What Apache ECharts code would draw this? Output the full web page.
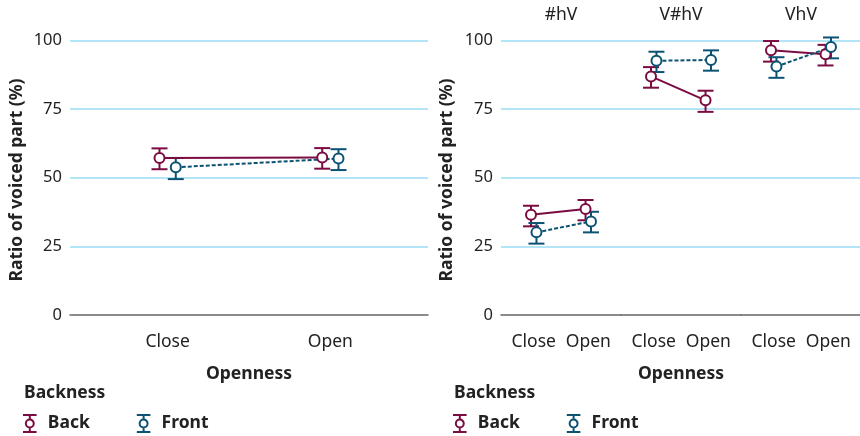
<!DOCTYPE html>
<html>
<head>
<meta charset="utf-8">
<script src="https://cdn.jsdelivr.net/npm/echarts@6/dist/echarts.min.js"></script>
<style>
  html, body { margin: 0; padding: 0; background: #fff; }
  #chart { width: 860px; height: 436px; }
</style>
</head>
<body>
<div id="chart"></div>
<script>
// categories
const openness = ["Close", "Open"]
const contexts = ["#hV", "V#hV", "VhV"]
const yTicks = [0, 25, 50, 75, 100]

// left panel: all contexts pooled
const backMean = [57.2, 57.4]
const backLo = [53.1, 53.3]
const backHi = [60.7, 60.8]
const frontMean = [53.8, 57.0]
const frontLo = [49.5, 52.8]
const frontHi = [57.2, 60.4]

// right panel: one row per context (#hV, V#hV, VhV)
const backMeanByCtx = [[36.5, 38.6], [86.9, 78.2], [96.4, 95.0]]
const backLoByCtx = [[32.3, 34.5], [82.8, 74.0], [92.3, 90.9]]
const backHiByCtx = [[39.8, 41.9], [90.3, 81.7], [99.8, 98.4]]
const frontMeanByCtx = [[30.1, 34.1], [92.6, 92.9], [90.5, 97.6]]
const frontLoByCtx = [[26.0, 30.1], [88.5, 89.0], [86.4, 93.5]]
const frontHiByCtx = [[33.5, 37.6], [95.9, 96.4], [93.9, 101.1]]

const BACK = "#7b0c41"
const FRONT = "#0b5273"
const GRIDLINE = "#9adcf3"
const TEXT = "#222"
const FONT = "Noto Sans"
const DODGE = 0.05

const chart = echarts.init(document.getElementById("chart"))

// grids: left panel + three facets
const grids = [{ left: 70, width: 358 }]
const facetW = 120
contexts.forEach((c, i) => grids.push({ left: 501 + i * facetW, width: facetW }))
grids.forEach(g => {
	g.top = 29.5
	g.bottom = 121
	g.outerBoundsMode = "none"
})

const xAxes = grids.map((g, i) => ({
	type: "value",
	gridIndex: i,
	min: 0.4,
	max: 2.6,
	axisLine: { show: true, lineStyle: { color: "#666", width: 1.5 } },
	axisTick: { show: false },
	splitLine: { show: false },
	axisLabel: {
		customValues: [1, 2],
		formatter: v => openness[Math.round(v) - 1] || "",
		color: TEXT,
		fontFamily: FONT,
		fontSize: 17.5,
		margin: 18,
	},
	name: i === 0 || i === 2 ? "Openness" : "",
	nameLocation: "middle",
	nameGap: 50,
	nameTextStyle: { color: TEXT, fontFamily: FONT, fontSize: 17.5, fontWeight: "bold" },
}))

const yAxes = grids.map((g, i) => ({
	type: "value",
	gridIndex: i,
	min: 0,
	max: 104,
	interval: 25,
	axisLine: { show: false },
	axisTick: { show: false },
	splitLine: { show: true, showMinLine: false, showMaxLine: false, lineStyle: { color: GRIDLINE, width: 1.5 } },
	axisLabel: {
		show: i <= 1,
		customValues: yTicks,
		color: TEXT,
		fontFamily: FONT,
		fontSize: 16.5,
		margin: 8,
	},
}))

const errorBarRender = color => (params, api) => {
	const x = api.value(0)
	const top = api.coord([x, api.value(2)])
	const bot = api.coord([x, api.value(1)])
	const hw = 8
	const style = { stroke: color, lineWidth: 2 }
	return {
		type: "group",
		children: [
			{ type: "line", shape: { x1: top[0], y1: top[1], x2: bot[0], y2: bot[1] }, style },
			{ type: "line", shape: { x1: top[0] - hw, y1: top[1], x2: top[0] + hw, y2: top[1] }, style },
			{ type: "line", shape: { x1: bot[0] - hw, y1: bot[1], x2: bot[0] + hw, y2: bot[1] }, style },
		],
	}
}

const series = []
const addPanel = (gi, bMean, bLo, bHi, fMean, fLo, fHi) => {
	const groups = [
		{ name: "Back", color: BACK, off: -DODGE, mean: bMean, lo: bLo, hi: bHi, dash: "solid" },
		{ name: "Front", color: FRONT, off: DODGE, mean: fMean, lo: fLo, hi: fHi, dash: [4, 2] },
	]
	groups.forEach(g => {
		series.push({
			name: g.name,
			type: "custom",
			xAxisIndex: gi,
			yAxisIndex: gi,
			renderItem: errorBarRender(g.color),
			itemStyle: { color: g.color },
			data: g.mean.map((m, k) => [k + 1 + g.off, g.lo[k], g.hi[k]]),
			z: 2,
		})
	})
	groups.forEach(g => {
		series.push({
			name: g.name,
			type: "line",
			xAxisIndex: gi,
			yAxisIndex: gi,
			symbol: "circle",
			symbolSize: 10,
			itemStyle: { color: "#fff", borderColor: g.color, borderWidth: 2 },
			lineStyle: { color: g.color, width: 2, type: g.dash },
			data: g.mean.map((m, k) => [k + 1 + g.off, m]),
			z: 3,
		})
	})
}

addPanel(0, backMean, backLo, backHi, frontMean, frontLo, frontHi)
contexts.forEach((c, i) => addPanel(i + 1, backMeanByCtx[i], backLoByCtx[i], backHiByCtx[i],
	frontMeanByCtx[i], frontLoByCtx[i], frontHiByCtx[i]))

// I-beam with a hollow circle, 12 x 17
const legendIcon = "path://M0,1H12M6,1V5M6,12V16M0,16H12M6,5A3.5,3.5 0 1,1 6,12A3.5,3.5 0 1,1 6,5Z"
const makeLegend = left => ({
	left,
	top: 414,
	padding: 0,
	orient: "horizontal",
	itemWidth: 26,
	itemHeight: 17,
	itemGap: 46,
	selectedMode: false,
	textStyle: { color: TEXT, fontFamily: FONT, fontSize: 17.5, fontWeight: "bold" },
	data: [
		{ name: "Back", icon: legendIcon, itemStyle: { color: "#fff", borderColor: BACK, borderWidth: 2 } },
		{ name: "Front", icon: legendIcon, itemStyle: { color: "#fff", borderColor: FRONT, borderWidth: 2 } },
	],
})

const textEl = (x, y, text, bold, rotation) => ({
	type: "text",
	x,
	y,
	rotation: rotation || 0,
	style: {
		text,
		fill: TEXT,
		font: `${bold ? "bold " : ""}17.5px "${FONT}"`,
		align: bold && !rotation ? "left" : "center",
		verticalAlign: "middle",
	},
})

const graphic = [
	textEl(24, 393, "Backness", true),
	textEl(454, 393, "Backness", true),
	textEl(17, 180, "Ratio of voiced part (%)", true, Math.PI / 2),
	textEl(447, 180, "Ratio of voiced part (%)", true, Math.PI / 2),
]
contexts.forEach((c, i) => graphic.push(textEl(501 + (i + 0.5) * facetW, 15, c, false)))

chart.setOption({
	animation: false,
	grid: grids,
	xAxis: xAxes,
	yAxis: yAxes,
	legend: [makeLegend(22), makeLegend(452)],
	graphic,
	series,
})
</script>
</body>
</html>
